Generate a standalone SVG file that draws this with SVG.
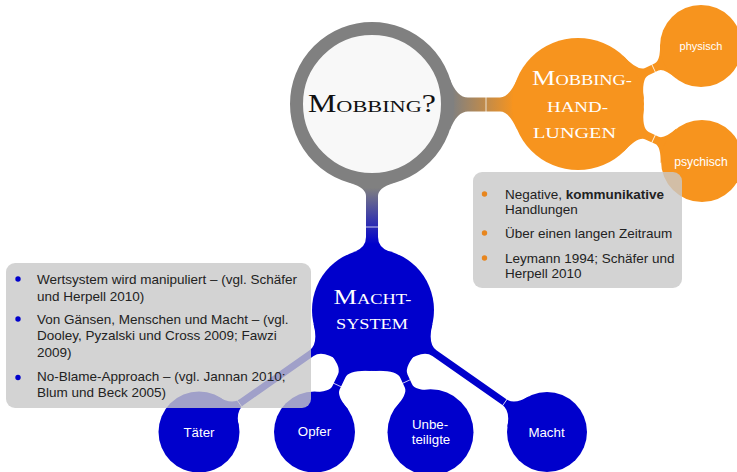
<svg xmlns="http://www.w3.org/2000/svg" width="737" height="472" viewBox="0 0 737 472">
<style>
.blue{fill:#0000cc}
.orange{fill:#f7941e}
.tick{stroke:#ffffff;stroke-width:0.9;opacity:0.85}
.box{fill:#c8c8c8;opacity:0.8}
.bt{font-family:"Liberation Sans",Arial,sans-serif;font-size:13.5px;fill:#222}
.lbl{font-family:"Liberation Sans",Arial,sans-serif;fill:#ffffff;text-anchor:middle}
.title{font-family:"Liberation Serif","Times New Roman",serif;text-anchor:middle}
</style>
<defs>
<linearGradient id="gMH" gradientUnits="userSpaceOnUse" x1="80" y1="0" x2="142" y2="0">
<stop offset="0" stop-color="#808080"/><stop offset="1" stop-color="#f7941e"/>
</linearGradient>
<linearGradient id="gMS" gradientUnits="userSpaceOnUse" x1="84" y1="0" x2="140" y2="0">
<stop offset="0" stop-color="#808080"/><stop offset="1" stop-color="#0000cc"/>
</linearGradient>
</defs>
<g id="connectors">
<g transform="translate(372,104.5)">
<path fill="url(#gMH)" d="M78,-25.3 Q85,-7 96,-7 L128,-7 Q137,-7 144.8,-24.7 L144.8,24.7 Q137,7 128,7 L96,7 Q85,7 78,25.3 Z"/>
<line class="tick" x1="114" y1="-8" x2="114" y2="8"/>
</g>
<g transform="translate(372,104) rotate(90)">
<path fill="url(#gMS)" d="M79.2,-21.2 Q84,-6 92,-6 L133,-6 Q143,-6 147.4,-16.8 L147.4,16.8 Q143,6 133,6 L92,6 Q84,6 79.2,21.2 Z"/>
<line class="tick" x1="123" y1="-7" x2="123" y2="7"/>
</g>
<g transform="translate(373,310) rotate(144.96)">
<path class="blue" d="M56.6,-22.9 Q64,-3.5 75,-3.5 L160.5,-3.5 Q170.5,-3.5 177.2,-18.8 L177.2,18.8 Q170.5,3.5 160.5,3.5 L75,3.5 Q64,3.5 56.6,22.9 Z"/>
<line class="tick" x1="163" y1="-4.5" x2="163" y2="4.5"/>
</g>
<g transform="translate(373,310) rotate(115.43)">
<path class="blue" d="M55.3,-25.8 Q64,-4 73,-4 L86.1,-4 Q93.1,-4 100.5,-20 L100.5,20 Q93.1,4 86.1,4 L73,4 Q64,4 55.3,25.8 Z"/>
<line class="tick" x1="83" y1="-5" x2="83" y2="5"/>
</g>
<g transform="translate(373,310) rotate(64.96)">
<path class="blue" d="M55.3,-25.8 Q64,-4 73,-4 L83.7,-4 Q90.7,-4 98.3,-21 L98.3,21 Q90.7,4 83.7,4 L73,4 Q64,4 55.3,25.8 Z"/>
<line class="tick" x1="79" y1="-5" x2="79" y2="5"/>
</g>
<g transform="translate(373,310) rotate(35.04)">
<path class="blue" d="M56.6,-22.9 Q64,-3.5 75,-3.5 L160.5,-3.5 Q170.5,-3.5 177.2,-18.8 L177.2,18.8 Q170.5,3.5 160.5,3.5 L75,3.5 Q64,3.5 56.6,22.9 Z"/>
<line class="tick" x1="161" y1="-4.5" x2="161" y2="4.5"/>
</g>
<g transform="translate(578,104) rotate(-25.25)">
<path class="orange" d="M61.2,-24.7 Q68,-4 76,-4 L87,-4 Q93,-4 99.8,-19.2 L99.8,19.2 Q93,4 87,4 L76,4 Q68,4 61.2,24.7 Z"/>
<line class="tick" x1="83.6" y1="-5" x2="83.6" y2="5"/>
</g>
<g transform="translate(578,104) rotate(24.69)">
<path class="orange" d="M61.2,-24.7 Q68,-4 76,-4 L87,-4 Q93,-4 99.8,-19.2 L99.8,19.2 Q93,4 87,4 L76,4 Q68,4 61.2,24.7 Z"/>
<line class="tick" x1="83.2" y1="-5" x2="83.2" y2="5"/>
</g>
</g>
<g id="mobbing">
<circle cx="372" cy="104" r="75.5" fill="#f8f8f8" stroke="#808080" stroke-width="13"/>
<text class="title" x="372" y="111.5" font-size="25" fill="#111" textLength="128" lengthAdjust="spacingAndGlyphs">M<tspan font-size="17.5">OBBING</tspan>?</text>
</g>
<g id="mobbinghandlungen">
<circle class="orange" cx="578" cy="104" r="66"/>
<text class="title" x="582" y="85" font-size="21" fill="#fff" textLength="100" lengthAdjust="spacingAndGlyphs">M<tspan font-size="14.7">OBBING-</tspan></text>
<text class="title" x="577.5" y="111.7" font-size="14.7" fill="#fff" textLength="61" lengthAdjust="spacingAndGlyphs">HAND-</text>
<text class="title" x="574.5" y="137.7" font-size="14.7" fill="#fff" textLength="83" lengthAdjust="spacingAndGlyphs">LUNGEN</text>
</g>
<g id="physisch">
<circle class="orange" cx="701" cy="46" r="41"/>
<text class="lbl" x="701" y="50" font-size="11">physisch</text>
</g>
<g id="psychisch">
<circle class="orange" cx="702" cy="161" r="41"/>
<text class="lbl" x="701" y="166" font-size="12.2">psychisch</text>
</g>
<g id="machtsystem">
<circle class="blue" cx="373" cy="310" r="61"/>
<text class="title" x="372.5" y="304.3" font-size="22" fill="#fff" textLength="78" lengthAdjust="spacingAndGlyphs">M<tspan font-size="15.4">ACHT-</tspan></text>
<text class="title" x="372" y="328.7" font-size="15.4" fill="#fff" textLength="72" lengthAdjust="spacingAndGlyphs">SYSTEM</text>
</g>
<g id="taeter">
<circle class="blue" cx="199" cy="432" r="40.5"/>
<text class="lbl" x="199" y="437" font-size="13.3">Täter</text>
</g>
<g id="opfer">
<circle class="blue" cx="314.5" cy="432" r="40.5"/>
<text class="lbl" x="314.5" y="436" font-size="13.3">Opfer</text>
</g>
<g id="unbeteiligte">
<circle class="blue" cx="430.5" cy="432.3" r="43"/>
<text class="lbl" x="430" y="429" font-size="13.3">Unbe-</text>
<text class="lbl" x="431" y="444" font-size="13.3">teiligte</text>
</g>
<g id="macht">
<circle class="blue" cx="547" cy="432" r="40"/>
<text class="lbl" x="546.5" y="437" font-size="13.3">Macht</text>
</g>
<g id="box-handlungen">
<rect class="box" x="473" y="172" width="209" height="116" rx="9"/>
<circle cx="484.5" cy="194" r="2.7" fill="#e8861e"/>
<circle cx="484.5" cy="233" r="2.7" fill="#e8861e"/>
<circle cx="484.5" cy="258" r="2.7" fill="#e8861e"/>
<text class="bt" x="505" y="198.5">Negative, <tspan font-weight="bold">kommunikative</tspan></text>
<text class="bt" x="505" y="214">Handlungen</text>
<text class="bt" x="505" y="238">Über einen langen Zeitraum</text>
<text class="bt" x="505" y="262.5">Leymann 1994; Schäfer und</text>
<text class="bt" x="505" y="278">Herpell 2010</text>
</g>
<g id="box-machtsystem">
<rect class="box" x="6" y="263" width="305" height="145" rx="9"/>
<circle cx="18" cy="279" r="2.7" fill="#0000cc"/>
<circle cx="18" cy="319" r="2.7" fill="#0000cc"/>
<circle cx="18" cy="377.5" r="2.7" fill="#0000cc"/>
<text class="bt" x="37" y="284">Wertsystem wird manipuliert – (vgl. Schäfer</text>
<text class="bt" x="37" y="300.5">und Herpell 2010)</text>
<text class="bt" x="37" y="323.5">Von Gänsen, Menschen und Macht – (vgl.</text>
<text class="bt" x="37" y="340">Dooley, Pyzalski und Cross 2009; Fawzi</text>
<text class="bt" x="37" y="357">2009)</text>
<text class="bt" x="37" y="380.5">No-Blame-Approach – (vgl. Jannan 2010;</text>
<text class="bt" x="37" y="397">Blum und Beck 2005)</text>
</g>
</svg>
